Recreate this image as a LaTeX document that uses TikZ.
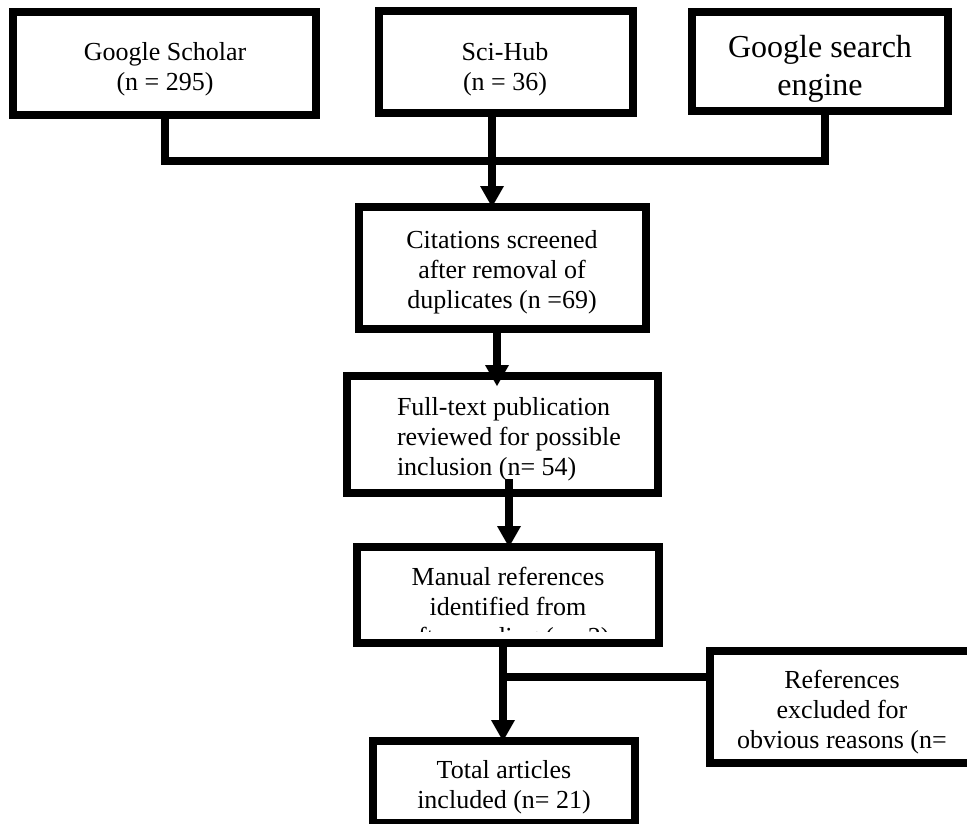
\documentclass[tikz,border=0pt]{standalone}
\usepackage{fontspec}
\setmainfont{Liberation Serif}
\usetikzlibrary{arrows.meta}
\begin{document}
\begin{tikzpicture}[x=1pt,y=-1pt,
  box/.style={draw, line width=8pt, rectangle, inner sep=0pt, outer sep=0pt},
  txt/.style={align=center, inner sep=0pt, outer sep=0pt, font=\fontsize{26}{30}\selectfont},
  conn/.style={line width=8pt},
  arr/.style={line width=8pt, -{Triangle[width=24pt,length=21pt,line width=0pt]}}]
\useasboundingbox (0,0) rectangle (967,823);
\clip (0,0) rectangle (967,823);
% boxes
\node[box, minimum width=303pt, minimum height=103pt] (gs) at (164.5,63.5) {};
\node[box, minimum width=254pt, minimum height=102pt] (sci) at (506,62) {};
\node[box, minimum width=256pt, minimum height=99pt] (gse) at (820,61.5) {};
\node[box, minimum width=287pt, minimum height=122pt] (cit) at (502.5,268) {};
\node[box, minimum width=311pt, minimum height=117pt] (full) at (502.5,434.5) {};
\node[box, minimum width=302pt, minimum height=96pt] (man) at (508,595) {};
\node[box, minimum width=264pt, minimum height=112pt] (excl) at (842,707) {};
\node[box, minimum width=262pt, minimum height=82pt] (tot) at (504,782) {};
% texts
\node[txt] (gstxt) at (165,69) {Google Scholar\\(n = 295)};
\node[txt] (scitxt) at (505,69.5) {Sci-Hub\\(n = 36)};
\node[txt, font=\fontsize{32}{38}\selectfont] (gsetxt) at (820,68.5) {Google search\\engine};
\node[txt] (cittxt) at (502,272) {Citations screened\\after removal of\\duplicates (n =69)};
\node[txt, align=left, anchor=west] (fulltxt) at (397,439) {Full-text publication\\reviewed for possible\\inclusion (n= 54)};
\begin{scope}
\clip (354,540) rectangle (663,631.5);
\node[txt] (mantxt) at (508,609) {Manual references\\identified from\\after reading (n= 2)};
\end{scope}
\node[txt] (excltxt) at (842,712) {References\\excluded for\\obvious reasons (n=};
\node[txt] (tottxt) at (504,787) {Total articles\\included (n= 21)};
% connectors
\coordinate (join) at (492,161);
\draw[conn] (gs.south) |- (join) -| ([xshift=5pt]gse.south);
\draw[arr] ([xshift=-14pt]sci.south) -- ([xshift=-14pt]sci.south |- cit.north);
\draw[arr] ([xshift=-5.5pt]cit.south) -- ([xshift=-5.5pt,yshift=-10pt]full.north);
\draw[arr] ([xshift=6.5pt,yshift=14pt]full.south) -- ([xshift=1pt]man.north);
\draw[arr] ([xshift=-5pt]man.south) -- ([xshift=-5pt]man.south |- tot.north);
\coordinate (branch) at (503,677);
\draw[conn] (branch) -- (branch -| excl.west);
\end{tikzpicture}
\end{document}
